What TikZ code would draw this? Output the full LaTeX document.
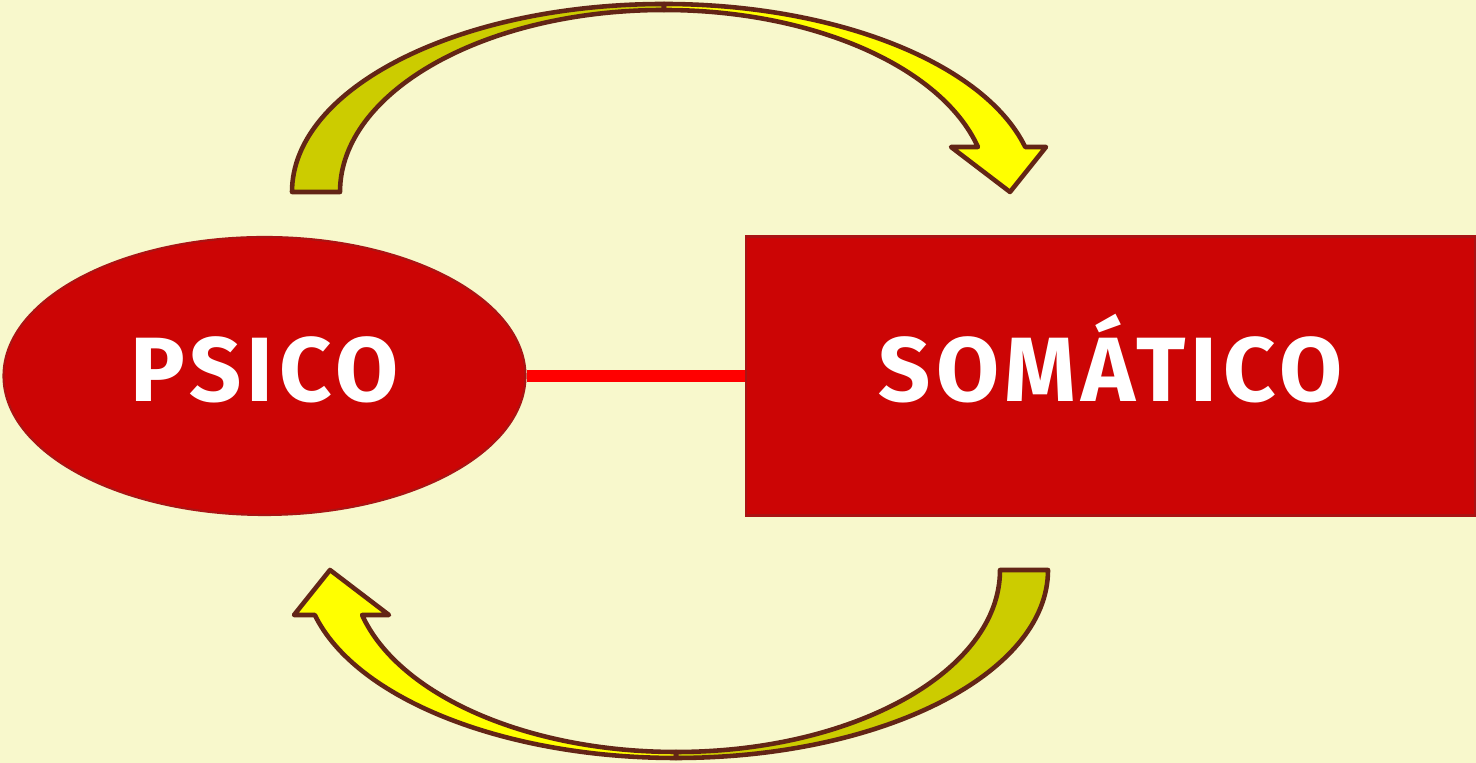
\documentclass[tikz,border=0pt]{standalone}
\usepackage{fontspec}
\setmainfont{Fira Sans}
\usepackage{tikz}
\usetikzlibrary{shapes.geometric}
\usetikzlibrary{positioning}
\usetikzlibrary{calc}

\definecolor{paper}{RGB}{248,248,204}
\definecolor{boxred}{RGB}{204,5,5}
\definecolor{edgered}{RGB}{170,20,20}
\definecolor{brownline}{RGB}{99,37,22}
\definecolor{olive}{RGB}{204,204,0}
\definecolor{lemon}{RGB}{255,255,0}

\tikzset{
  psicoshape/.style={ellipse, fill=boxred, draw=edgered, line width=0.6pt,
    minimum width=5.22cm, minimum height=2.78cm, inner sep=0pt},
  somabox/.style={rectangle, fill=boxred, draw=edgered, line width=0.6pt,
    minimum width=7.29cm, minimum height=2.79cm, inner sep=0pt},
  bigword/.style={text=white, font=\fontsize{26}{30}\selectfont\bfseries\addfontfeature{LetterSpace=6.0},
    text height=0.64cm, text depth=0.12cm},
  link/.style={line width=3.4pt, color=red},
  backpart/.style={fill=olive, draw=brownline, line width=1.3pt, line join=round},
  frontpart/.style={fill=lemon, draw=brownline, line width=1.3pt, line join=round}
}

\begin{document}
\begin{tikzpicture}

\fill[paper] (0,0) rectangle (14.76,7.63);
\useasboundingbox (0,0) rectangle (14.76,7.63);

 \node[psicoshape] (psico) at (2.645,3.87) {};
 \node[somabox] (soma) at (11.105,3.87) {};
 \node[bigword] (psicotext) at (psico.center) {PSICO};
 \node[bigword] (somatext) at (soma.center) {SOMÁTICO};

\draw[link] (psico.east) -- (soma.west);

% the two curved arrows, the lower one is the upper one turned round
 \foreach \r in {0,180}
 {
 \begin{scope}[rotate around={\r:(6.70,3.82)}]
	\coordinate (c) at (6.64,5.71);
	\coordinate (tailout) at (2.92,5.71);
	\coordinate (topout) at (6.64,7.59);
	\coordinate (topin) at (6.64,7.53);
	\coordinate (headr) at (10.46,6.16);
	\coordinate (tip) at (10.10,5.71);
	\coordinate (headl) at (9.51,6.16);
 \draw[backpart] (tailout) arc[start angle=180, end angle=90, x radius=3.72, y radius=1.88]
   -- (topin) arc[start angle=90, end angle=180, x radius=3.24, y radius=1.82] -- cycle;
 \draw[frontpart] (topout) arc[start angle=90, end angle=13.85, x radius=3.72, y radius=1.88]
   -- (headr) -- (tip) -- (headl) -- ($(c)+(14.32:3.24 and 1.82)$)
   arc[start angle=14.32, end angle=90, x radius=3.24, y radius=1.82] -- cycle;
 \end{scope}
 }

\end{tikzpicture}
\end{document}
